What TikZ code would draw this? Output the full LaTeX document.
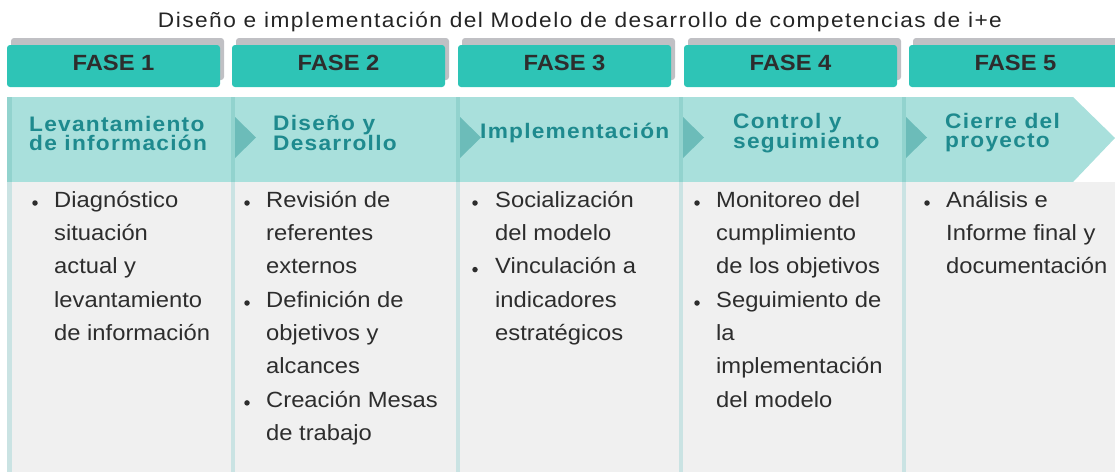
\documentclass[tikz,border=0pt]{standalone}
\usepackage{fontspec}
\setmainfont{Liberation Sans}[FakeStretch=1.08]
\newfontfamily\titlefont{Liberation Sans}[FakeStretch=1.08,LetterSpace=7]
\newfontfamily\headfont{Liberation Sans}[FakeStretch=1.08,LetterSpace=6]
\usetikzlibrary{shadows}

\definecolor{faseteal}{RGB}{46,196,182}
\definecolor{shadowgray}{RGB}{192,192,196}
\definecolor{bandteal}{RGB}{169,224,220}
\definecolor{bandline}{RGB}{146,211,206}
\definecolor{arrowteal}{RGB}{108,188,185}
\definecolor{headteal}{RGB}{30,138,142}
\definecolor{bodygray}{RGB}{240,240,240}
\definecolor{bodyline}{RGB}{202,227,227}
\definecolor{bodytext}{RGB}{45,45,45}

\tikzset{
  fasebox/.style={fill=faseteal, rounded corners=3pt, minimum width=213pt,
    minimum height=42pt, inner sep=0pt, text depth=6pt, text=bodytext,
    font=\fontsize{22}{24}\selectfont\bfseries,
    drop shadow={shadow xshift=4pt, shadow yshift=7pt, fill=shadowgray,
      opacity=1}},
  phasehead/.style={anchor=west, align=left, inner sep=0pt, text=headteal,
    font=\headfont\bfseries\fontsize{21}{19}\selectfont},
  itembox/.style={anchor=north west, align=left, inner sep=0pt,
    text=bodytext, font=\fontsize{22}{33.3}\selectfont},
  bulletdot/.style={circle, fill=bodytext, inner sep=0pt, minimum size=5.5pt}
}

\begin{document}
\begin{tikzpicture}[x=1pt,y=-1pt]
  \useasboundingbox (0,0) rectangle (1115,472);

    \node[anchor=base, text=bodytext!80!black,
    font=\titlefont\fontsize{21}{24}\selectfont] (title) at (580,27)
    {Diseño e implementación del Modelo de desarrollo de competencias de i+e};

    % fases
    \node[fasebox] (fase1) at (113.5,66) {FASE 1};
    \node[fasebox] (fase2) at (338.5,66) {FASE 2};
    \node[fasebox] (fase3) at (564.5,66) {FASE 3};
    \node[fasebox] (fase4) at (790.5,66) {FASE 4};
    \node[fasebox] (fase5) at (1015.5,66) {FASE 5};

    % banda y cuerpo
    \fill[bandteal] (7,97) -- (1073,97) -- (1115,138) -- (1073,182)
    -- (7,182) -- cycle;
    \fill[bodygray] (7,182) rectangle (1115,472);

    \fill[bandline] (7,97) rectangle (12,182);
    \fill[bodyline] (7,182) rectangle (12,472);

    \fill[bandline] (231,97) rectangle (235,182);
    \fill[bodyline] (231,182) rectangle (235,472);
    \fill[arrowteal] (235,117) -- (256,137.5) -- (235,158) -- cycle;

    \fill[bandline] (456,97) rectangle (460,182);
    \fill[bodyline] (456,182) rectangle (460,472);
    \fill[arrowteal] (460,117) -- (481,137.5) -- (460,158) -- cycle;

    \fill[bandline] (679,97) rectangle (683,182);
    \fill[bodyline] (679,182) rectangle (683,472);
    \fill[arrowteal] (683,117) -- (704,137.5) -- (683,158) -- cycle;

    \fill[bandline] (902,97) rectangle (906,182);
    \fill[bodyline] (902,182) rectangle (906,472);
    \fill[arrowteal] (906,117) -- (927,137.5) -- (906,158) -- cycle;

    % etapas
    \node[phasehead] (head1) at (29,133) {Levantamiento\\de información};
    \node[phasehead] (head2) at (273,133) {Diseño y\\Desarrollo};
    \node[phasehead] (head3) at (480,133) {Implementación};
    \node[phasehead] (head4) at (733,133) {Control y\\seguimiento};
    \node[phasehead] (head5) at (945,133) {Cierre del\\proyecto};

    % actividades
    \node[bulletdot] (dot11) at (35,203) {};
    \node[itembox] (item11) at (54,183.7) {\strut Diagnóstico\\situación\\
      actual y\\levantamiento\\de información};

    \node[bulletdot] (dot21) at (247,203) {};
    \node[itembox] (item21) at (266,183.7) {\strut Revisión de\\referentes\\
      externos};
    \node[bulletdot] (dot22) at (247,303) {};
    \node[itembox] (item22) at (266,283.6) {\strut Definición de\\objetivos y\\
      alcances};
    \node[bulletdot] (dot23) at (247,402.9) {};
    \node[itembox] (item23) at (266,383.5) {\strut Creación Mesas\\de trabajo};

    \node[bulletdot] (dot31) at (475,203) {};
    \node[itembox] (item31) at (495,183.7) {\strut Socialización\\del modelo};
    \node[bulletdot] (dot32) at (475,269.6) {};
    \node[itembox] (item32) at (495,250.3) {\strut Vinculación a\\indicadores\\
      estratégicos};

    \node[bulletdot] (dot41) at (697,203) {};
    \node[itembox] (item41) at (716,183.7) {\strut Monitoreo del\\cumplimiento\\
      de los objetivos};
    \node[bulletdot] (dot42) at (697,303) {};
    \node[itembox] (item42) at (716,283.6) {\strut Seguimiento de\\la\\
      implementación\\del modelo};

    \node[bulletdot] (dot51) at (927,203) {};
    \node[itembox] (item51) at (946,183.7) {\strut Análisis e\\Informe final y\\
      documentación};

  \end{tikzpicture}
\end{document}
